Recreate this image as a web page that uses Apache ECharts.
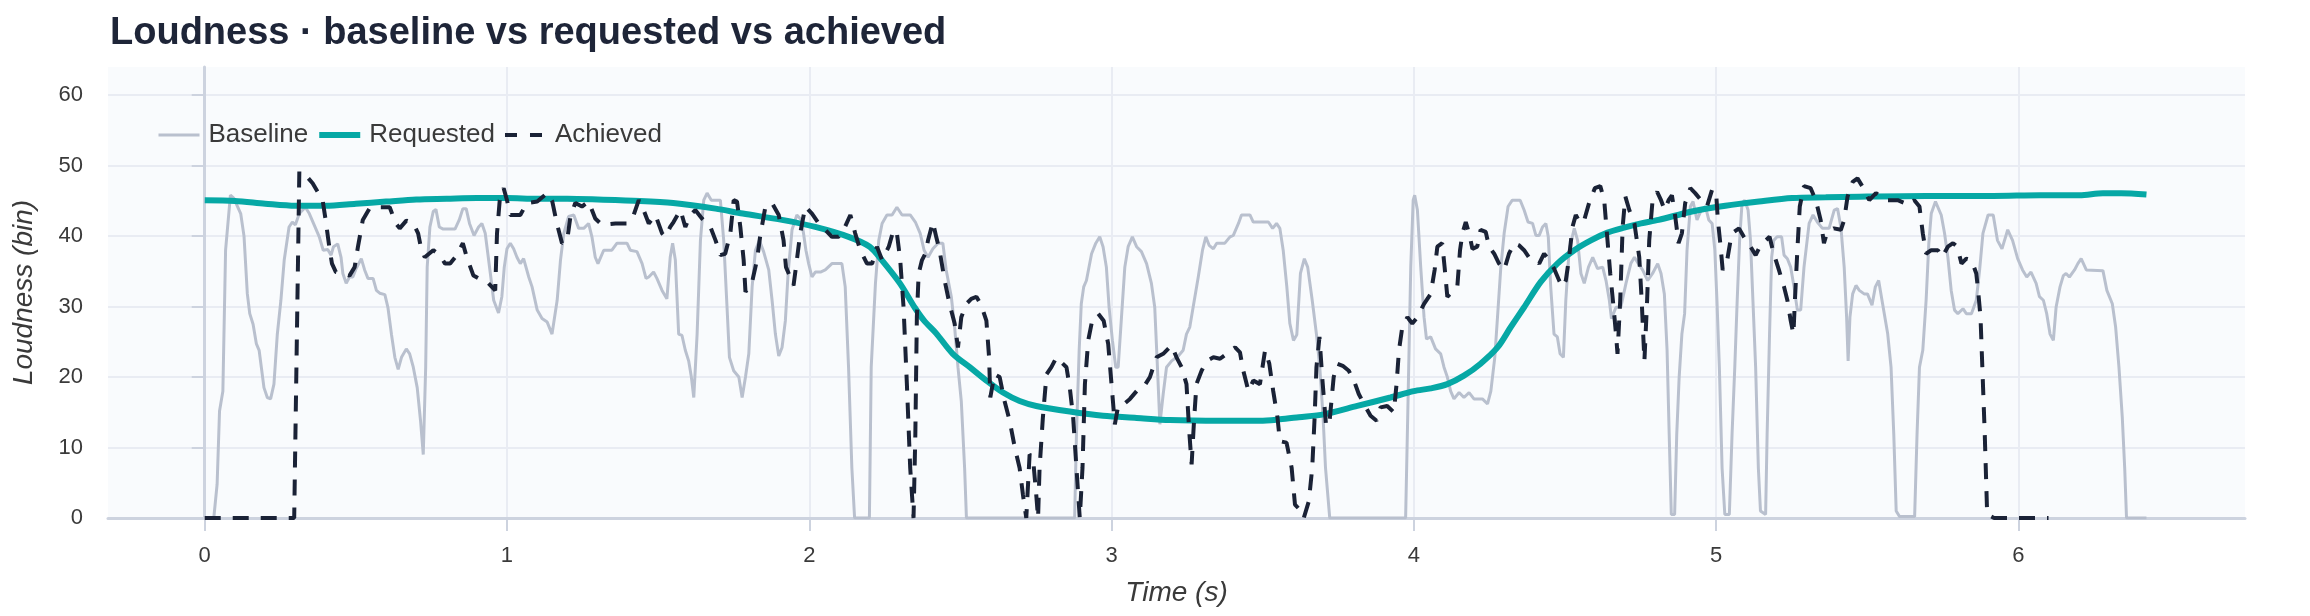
<!DOCTYPE html>
<html>
<head>
<meta charset="utf-8">
<script src="https://cdn.jsdelivr.net/npm/echarts@6/dist/echarts.min.js"></script>
<style>
html,body{margin:0;padding:0;background:#ffffff;}
#chart{width:2310px;height:616px;}
</style>
</head>
<body>
<div id="chart"></div>
<script>
const titleText = 'Loudness · baseline vs requested vs achieved';
const seriesNames = ['Baseline', 'Requested', 'Achieved'];
const xTicks = [0, 1, 2, 3, 4, 5, 6];
const yTicks = [0, 10, 20, 30, 40, 50, 60];

const baselineData = [[0,0],[0.03,0],[0.041,4.8],[0.049,15.2],[0.06,18],[0.069,38],[0.085,45.8],[0.096,45.4],[0.119,43.2],[0.13,40],[0.141,31.8],[0.149,29],[0.16,27.5],[0.171,24.7],[0.18,23.8],[0.196,18.5],[0.207,17.1],[0.218,16.9],[0.229,19],[0.24,26],[0.252,30.9],[0.263,36.6],[0.279,41.3],[0.29,42],[0.3,41.6],[0.313,43.2],[0.333,44.1],[0.346,43.2],[0.362,41.6],[0.379,39.9],[0.392,38],[0.407,38.1],[0.418,37.3],[0.426,38.5],[0.44,38.9],[0.451,37],[0.457,34.7],[0.468,33.3],[0.479,34.2],[0.49,34.2],[0.501,35.4],[0.518,36.8],[0.529,35.2],[0.54,34],[0.557,34],[0.568,32.3],[0.579,31.9],[0.596,31.7],[0.606,29.9],[0.618,26],[0.629,22.8],[0.64,21.1],[0.651,22.8],[0.667,24],[0.678,23.3],[0.69,21.4],[0.703,18.5],[0.714,13.8],[0.723,9],[0.731,21.4],[0.736,35.6],[0.745,41.3],[0.756,43.5],[0.765,43.8],[0.776,41.3],[0.789,41],[0.828,41],[0.842,42.3],[0.854,43.9],[0.865,43.9],[0.876,41.8],[0.891,40.1],[0.906,41.3],[0.917,41.8],[0.928,40.4],[0.945,34.7],[0.956,30.9],[0.972,29.1],[0.983,31.4],[0.991,35.6],[1.0,38.2],[1.011,39],[1.022,38.2],[1.033,37],[1.044,36.1],[1.055,36.8],[1.072,34.2],[1.083,32.8],[1.1,29.5],[1.116,28.3],[1.133,27.8],[1.149,26.1],[1.166,30.9],[1.177,36.6],[1.188,40.4],[1.204,42.8],[1.221,43],[1.237,41.1],[1.254,41.1],[1.27,41.8],[1.281,39.9],[1.292,37],[1.301,36.1],[1.32,38],[1.347,38],[1.364,39],[1.397,39],[1.408,38],[1.43,37.8],[1.447,36.1],[1.46,34],[1.469,34.2],[1.485,34.9],[1.496,34],[1.513,32.3],[1.529,31.1],[1.54,37],[1.548,39],[1.557,36.6],[1.568,26.1],[1.579,25.9],[1.59,23.8],[1.601,22.3],[1.61,20],[1.618,17.1],[1.629,26.1],[1.64,39.4],[1.651,45.1],[1.662,46.1],[1.676,45.1],[1.706,45.1],[1.717,39.4],[1.728,29.9],[1.736,22.8],[1.75,20.9],[1.767,20],[1.778,17.1],[1.789,20],[1.8,23.3],[1.811,32.8],[1.822,38],[1.835,39.4],[1.849,37.8],[1.866,35.2],[1.877,30.9],[1.888,26.1],[1.899,23],[1.91,24.2],[1.921,28],[1.93,34.7],[1.943,40.9],[1.959,43],[1.974,42.3],[1.981,40.4],[1.989,38],[1.998,36.1],[2.009,34.2],[2.02,34.9],[2.037,34.9],[2.053,35.2],[2.075,36.1],[2.108,36.1],[2.119,32.8],[2.13,21.4],[2.141,7.1],[2.15,0],[2.199,0],[2.205,21.4],[2.219,33.3],[2.23,39.4],[2.241,41.8],[2.257,43],[2.274,43],[2.29,44.1],[2.307,43],[2.334,43],[2.351,42],[2.367,40.4],[2.38,38],[2.393,37],[2.409,38.2],[2.426,39],[2.442,39],[2.453,35.2],[2.47,31.4],[2.481,27.1],[2.492,21.4],[2.503,16.6],[2.514,7.1],[2.52,0],[2.878,0],[2.884,11.9],[2.893,23.8],[2.9,30.4],[2.908,32.8],[2.917,33.7],[2.934,37.5],[2.948,39],[2.961,39.9],[2.972,38.5],[2.983,35.6],[2.992,29.9],[3.003,25.2],[3.014,21.4],[3.022,21.4],[3.033,28.5],[3.044,35.6],[3.055,38.5],[3.069,39.9],[3.083,38.5],[3.099,37.8],[3.116,36.1],[3.132,33.3],[3.143,29.9],[3.151,22.3],[3.16,13.3],[3.171,17.6],[3.182,21.4],[3.199,22.3],[3.221,23],[3.237,23.8],[3.248,26.1],[3.259,27.1],[3.27,29.9],[3.287,34.2],[3.301,38],[3.312,39.9],[3.323,38.7],[3.337,38.2],[3.348,39],[3.375,39],[3.392,39.9],[3.403,40.1],[3.42,41.8],[3.43,43],[3.458,43],[3.469,42],[3.519,42],[3.533,41.1],[3.546,41.8],[3.557,41.1],[3.568,38],[3.58,32.8],[3.59,27.6],[3.602,25.2],[3.613,26],[3.625,34.7],[3.638,36.8],[3.649,35.6],[3.664,30.9],[3.678,26.1],[3.689,21.4],[3.7,14.3],[3.708,7.1],[3.722,0],[3.973,0],[3.981,16.6],[3.99,35.6],[3.998,45.1],[4.003,45.8],[4.012,43.7],[4.023,35.6],[4.034,28.5],[4.042,25.4],[4.056,25.7],[4.072,24],[4.089,23.3],[4.1,21.4],[4.111,20],[4.122,18],[4.133,16.9],[4.15,17.8],[4.166,17.1],[4.183,17.8],[4.199,16.9],[4.227,16.9],[4.244,16.2],[4.255,18],[4.268,22.8],[4.277,28.5],[4.288,35.6],[4.299,40.4],[4.312,44.2],[4.326,45.1],[4.352,45.1],[4.365,43.7],[4.378,42],[4.393,41.8],[4.404,40.1],[4.415,40.1],[4.426,41.3],[4.437,41.8],[4.445,39.9],[4.453,32.8],[4.464,26.1],[4.475,25.7],[4.484,23.3],[4.495,22.8],[4.503,30.9],[4.514,38],[4.531,41.1],[4.542,39.4],[4.553,34.7],[4.564,33.3],[4.578,35.6],[4.592,37],[4.608,35.4],[4.625,35.6],[4.636,33.7],[4.647,30.9],[4.654,28.3],[4.669,29.9],[4.685,29.9],[4.702,33.3],[4.718,36.1],[4.73,37],[4.743,36.1],[4.757,35.2],[4.774,33.7],[4.79,34.7],[4.807,36.1],[4.818,34.7],[4.829,31.8],[4.838,23.8],[4.845,11.9],[4.852,0.5],[4.863,0.5],[4.87,11.9],[4.878,20],[4.887,26.1],[4.896,29],[4.904,38],[4.915,44.2],[4.924,44.9],[4.937,42.3],[4.951,43.7],[4.965,44.2],[4.976,42.3],[4.987,41.8],[4.996,38],[5.003,30.9],[5.011,21.4],[5.02,7.1],[5.029,0.5],[5.044,0.5],[5.053,11.9],[5.062,21.4],[5.07,30.9],[5.078,39.4],[5.086,44.7],[5.095,45.1],[5.106,43.7],[5.114,39.4],[5.122,30.9],[5.131,21.4],[5.14,7.1],[5.147,1],[5.164,0.5],[5.169,11.9],[5.177,26.1],[5.184,37],[5.191,39.4],[5.202,39.9],[5.217,39.9],[5.225,37.3],[5.236,36.8],[5.247,35.6],[5.258,32.8],[5.269,29.5],[5.28,29.5],[5.291,35.6],[5.308,41.8],[5.321,43],[5.335,42],[5.352,41.1],[5.374,41.1],[5.391,43.7],[5.402,43.9],[5.413,41.3],[5.424,35.6],[5.432,28.5],[5.437,22.3],[5.443,28.5],[5.452,31.8],[5.463,33],[5.474,32.3],[5.49,31.8],[5.501,31.8],[5.516,30.2],[5.527,32.8],[5.538,33.7],[5.551,30.4],[5.568,26.1],[5.579,21.4],[5.588,11.9],[5.596,1],[5.607,0.2],[5.657,0.2],[5.665,11.9],[5.673,21.4],[5.684,23.8],[5.695,30.9],[5.704,39],[5.712,43.2],[5.726,44.9],[5.745,43],[5.756,40.4],[5.767,37],[5.778,32.3],[5.789,29.5],[5.8,29],[5.817,29.7],[5.828,29],[5.845,29],[5.861,30.9],[5.872,35.2],[5.883,40.4],[5.9,43],[5.917,43],[5.931,39.4],[5.946,38.2],[5.965,40.9],[5.981,39.4],[5.998,36.8],[6.014,35.2],[6.028,34.2],[6.042,34.9],[6.059,33.3],[6.07,31.4],[6.083,30.9],[6.094,29],[6.105,26.1],[6.116,25.2],[6.125,29.9],[6.138,32.8],[6.149,34.4],[6.158,34.7],[6.169,34.2],[6.186,35.2],[6.197,36.1],[6.208,36.8],[6.225,35.2],[6.28,35.1],[6.293,32.3],[6.311,30.4],[6.322,27.1],[6.333,21.4],[6.344,14.3],[6.352,7.1],[6.358,0],[6.424,0]];

const requestedData = [[0,45.1],[0.1,45.0],[0.2,44.6],[0.3,44.3],[0.4,44.3],[0.5,44.6],[0.6,44.9],[0.7,45.2],[0.8,45.3],[0.9,45.4],[1.0,45.4],[1.1,45.3],[1.2,45.3],[1.3,45.2],[1.44,45.0],[1.55,44.7],[1.69,43.9],[1.78,43.2],[1.91,42.3],[2.02,41.3],[2.13,39.9],[2.2,38.5],[2.24,36.6],[2.3,33.3],[2.35,29.8],[2.38,28],[2.42,26.2],[2.475,23.3],[2.531,21.4],[2.586,19.5],[2.641,17.8],[2.696,16.6],[2.751,15.9],[2.862,15.1],[2.972,14.5],[3.083,14.2],[3.193,13.9],[3.359,13.8],[3.491,13.8],[3.557,14],[3.62,14.3],[3.702,14.7],[3.813,15.9],[3.923,17.1],[4.0,18],[4.056,18.4],[4.111,19],[4.166,20.2],[4.221,21.9],[4.277,24.2],[4.321,27.1],[4.365,29.9],[4.42,33.5],[4.475,36.1],[4.531,38],[4.586,39.4],[4.641,40.5],[4.696,41.2],[4.752,41.8],[4.81,42.3],[4.92,43.5],[5.031,44.3],[5.142,44.9],[5.252,45.4],[5.363,45.5],[5.474,45.6],[5.695,45.7],[5.917,45.7],[6.072,45.8],[6.203,45.8],[6.28,46.1],[6.34,46.1],[6.424,45.9]];

const achievedData = [[0,0],[0.296,0],[0.313,49.2],[0.329,48.9],[0.357,47.5],[0.39,45.1],[0.4,42.3],[0.412,38.5],[0.421,36.1],[0.434,34.9],[0.457,34.7],[0.479,34.4],[0.496,35.6],[0.507,38.5],[0.523,42.3],[0.545,43.9],[0.579,44.1],[0.612,44.1],[0.632,41.8],[0.645,41.1],[0.667,42.2],[0.69,41.8],[0.706,40.4],[0.717,38],[0.728,37],[0.756,38],[0.778,37.3],[0.795,36.1],[0.812,36.1],[0.834,37.3],[0.854,39],[0.867,37],[0.889,34.4],[0.906,34],[0.934,33.5],[0.961,32.3],[0.967,40.4],[0.976,45.1],[0.989,46.8],[1.0,45.1],[1.011,43],[1.044,43],[1.066,44.7],[1.1,44.9],[1.133,46.1],[1.15,44.9],[1.165,41.8],[1.182,39],[1.199,39.4],[1.21,42.8],[1.226,44.7],[1.248,44.2],[1.27,44.9],[1.292,42.5],[1.314,41.6],[1.359,41.8],[1.397,41.8],[1.419,43],[1.436,45.1],[1.452,43.7],[1.469,41.8],[1.491,43],[1.513,40.4],[1.524,39.9],[1.54,41.3],[1.551,42],[1.574,43.7],[1.59,41.3],[1.607,43],[1.623,43.7],[1.645,42.5],[1.673,41.3],[1.69,39.4],[1.706,37.3],[1.722,37.5],[1.739,40.4],[1.75,45.1],[1.761,44.9],[1.772,41.3],[1.783,36.6],[1.789,32.1],[1.81,33.3],[1.827,36.6],[1.838,40.1],[1.855,44.2],[1.877,44.7],[1.899,43],[1.915,39.4],[1.923,35.6],[1.932,34.7],[1.948,33],[1.959,36.6],[1.97,40.4],[1.987,44.2],[2.009,43.2],[2.031,41.8],[2.053,40.9],[2.075,39.9],[2.097,39.9],[2.114,40.9],[2.136,43],[2.152,40.4],[2.169,38],[2.191,36.1],[2.208,36.1],[2.224,38.5],[2.241,36.6],[2.263,38.5],[2.279,40.9],[2.29,40.4],[2.301,36.6],[2.312,29.9],[2.323,19],[2.334,7.1],[2.345,0],[2.351,11.9],[2.356,28.5],[2.362,34.7],[2.373,36.6],[2.384,37.5],[2.393,39.4],[2.409,42],[2.42,39.9],[2.431,38],[2.448,33.7],[2.464,30.4],[2.481,27.6],[2.492,24.2],[2.503,28.5],[2.52,30.4],[2.536,31.1],[2.553,31.4],[2.569,30.2],[2.586,28],[2.595,22.8],[2.599,17.1],[2.613,20.4],[2.63,20],[2.646,16.6],[2.663,13.8],[2.68,10],[2.696,7.1],[2.707,3.3],[2.718,0],[2.729,9],[2.74,8.6],[2.751,3.3],[2.757,0],[2.762,7.1],[2.773,14.3],[2.785,20.4],[2.801,21.4],[2.818,22.8],[2.834,22.1],[2.851,21.4],[2.862,18.5],[2.873,14.3],[2.884,7.1],[2.895,0],[2.904,7.1],[2.912,19],[2.923,25.2],[2.934,27.6],[2.956,29],[2.974,28],[2.989,24.7],[3.0,19],[3.011,13.3],[3.022,15.9],[3.039,16.1],[3.061,16.9],[3.083,18],[3.105,18.5],[3.127,20],[3.149,22.8],[3.171,23.3],[3.199,24.5],[3.215,22.8],[3.232,21.4],[3.248,19],[3.257,12.4],[3.265,7.6],[3.273,13.8],[3.281,19],[3.298,20.9],[3.315,22.3],[3.337,22.8],[3.359,22.6],[3.381,23.3],[3.409,24.2],[3.425,23.5],[3.436,20.9],[3.453,18],[3.469,19.5],[3.491,19],[3.508,23.8],[3.522,21.9],[3.535,18],[3.549,14.3],[3.557,10.9],[3.579,10.7],[3.596,7.1],[3.607,1.9],[3.618,1.4],[3.636,0],[3.653,2.4],[3.664,7.1],[3.672,14.3],[3.678,21.4],[3.688,25.7],[3.697,20],[3.71,13],[3.722,14],[3.735,20],[3.747,21.9],[3.765,21.6],[3.785,20.9],[3.802,19.5],[3.818,17.6],[3.835,16.2],[3.857,14.5],[3.877,13.8],[3.89,15.7],[3.912,15.9],[3.934,15],[3.943,19],[3.951,23.8],[3.962,27.1],[3.979,28.5],[3.995,27.6],[4.012,28.5],[4.034,30.4],[4.056,31.8],[4.069,35.2],[4.078,38.5],[4.094,39],[4.102,35.6],[4.111,31.4],[4.128,32.1],[4.144,32.8],[4.153,38],[4.161,40.4],[4.172,42],[4.183,40.4],[4.194,38.2],[4.21,38.5],[4.221,40.9],[4.238,40.6],[4.249,38.5],[4.266,37.5],[4.282,36.1],[4.299,35.2],[4.315,37.5],[4.332,39],[4.348,38.7],[4.365,38],[4.381,37],[4.398,36.8],[4.415,36.1],[4.431,37.5],[4.448,36.6],[4.464,35.4],[4.481,33.7],[4.492,32.8],[4.503,33.7],[4.514,37],[4.525,41.3],[4.536,43],[4.551,41.8],[4.564,42.3],[4.58,44.7],[4.599,46.8],[4.617,47.1],[4.63,45.1],[4.639,40.4],[4.65,34.7],[4.661,29.9],[4.669,26.1],[4.674,23.3],[4.683,30.9],[4.691,41.3],[4.7,45.6],[4.713,43.7],[4.73,41.8],[4.746,37],[4.754,30.9],[4.763,22.3],[4.772,30.9],[4.779,39.4],[4.79,45.1],[4.805,46.3],[4.818,45.1],[4.83,43.7],[4.843,45.1],[4.854,45.8],[4.865,42.8],[4.876,39],[4.887,40.4],[4.898,44.7],[4.915,46.8],[4.931,46.1],[4.954,44.9],[4.97,44.2],[4.987,46.6],[5.0,46.3],[5.006,42.3],[5.014,39],[5.022,35.2],[5.037,36.6],[5.048,39.4],[5.059,40.6],[5.076,41.1],[5.092,39.9],[5.114,38.5],[5.131,37.3],[5.147,38.7],[5.164,39.4],[5.177,39.9],[5.191,37.5],[5.208,35.2],[5.225,32.8],[5.236,30.9],[5.247,28],[5.256,26.1],[5.261,30.9],[5.269,38],[5.277,44.2],[5.291,47.1],[5.313,46.8],[5.33,45.1],[5.346,42.3],[5.357,39],[5.368,40.6],[5.39,41.1],[5.413,40.9],[5.424,42.3],[5.435,45.6],[5.452,47.7],[5.468,48.2],[5.485,47],[5.507,45.1],[5.529,46.1],[5.562,45.1],[5.601,45.1],[5.64,44.4],[5.656,45.1],[5.673,44.2],[5.684,40.4],[5.695,37.5],[5.712,38],[5.734,38],[5.748,37],[5.767,38.5],[5.784,39],[5.798,38.5],[5.812,36.1],[5.828,36.8],[5.845,36.6],[5.861,34.7],[5.867,32.3],[5.875,28.5],[5.881,21.4],[5.889,11.9],[5.897,0.5],[5.92,0],[6.1,0]];

const FONT = "'Liberation Sans', Arial, Helvetica, sans-serif";
const chart = echarts.init(document.getElementById('chart'), null, {renderer: 'canvas'});

const axisColor = '#cdd3df';
const gridColor = '#e9ecf3';
const textColor = '#3a3a3a';
const colors = ['#b9c0ce', '#06a8a5', '#1a2236'];
const widths = [3, 6, 4];
const dash = [16, 12];

chart.setOption({
  backgroundColor: '#ffffff',
  animation: false,
  title: {
    text: titleText,
    left: 105,
    top: 10,
    textStyle: {fontFamily: FONT, fontSize: 38, fontWeight: 'bold', color: '#1e2538'}
  },
  legend: {
    data: [
      {name: seriesNames[0], itemStyle: {opacity: 0}, lineStyle: {color: colors[0], width: widths[0]}},
      {name: seriesNames[1], itemStyle: {opacity: 0}, lineStyle: {color: colors[1], width: widths[1]}},
      {name: seriesNames[2], itemStyle: {opacity: 0}, lineStyle: {color: colors[2], width: widths[2], type: [12, 13]}}
    ],
    left: 152,
    top: 117,
    itemWidth: 41,
    itemHeight: 14,
    itemGap: 8,
    textStyle: {fontFamily: FONT, fontSize: 26, color: textColor, padding: [0, 0, 0, 4]}
  },
  grid: {
    left: 108, right: 65, top: 67, bottom: 98,
    show: true, backgroundColor: '#f9fbfd', borderWidth: 0
  },
  xAxis: {
    type: 'value',
    min: -0.32,
    max: 6.75,
    name: 'Time (s)',
    nameLocation: 'middle',
    nameGap: 61,
    nameTextStyle: {fontFamily: FONT, fontSize: 28, fontStyle: 'italic', color: textColor},
    axisLine: {show: true, onZero: false, lineStyle: {color: axisColor, width: 3}},
    axisTick: {show: true, length: 13, customValues: xTicks, lineStyle: {color: axisColor, width: 2}},
    axisLabel: {customValues: xTicks, fontFamily: FONT, fontSize: 22, color: textColor, margin: 27},
    splitLine: {show: true, customValues: xTicks, lineStyle: {color: gridColor, width: 2}}
  },
  yAxis: {
    type: 'value',
    min: 0,
    max: 64,
    name: 'Loudness (bin)',
    nameLocation: 'middle',
    nameGap: 70,
    nameTextStyle: {fontFamily: FONT, fontSize: 28, fontStyle: 'italic', color: textColor},
    axisLine: {show: true, lineStyle: {color: axisColor, width: 3}},
    axisTick: {show: true, length: 13, customValues: yTicks, lineStyle: {color: axisColor, width: 2}},
    axisLabel: {customValues: yTicks, fontFamily: FONT, fontSize: 22, color: textColor, margin: 25},
    splitLine: {show: true, customValues: yTicks, lineStyle: {color: gridColor, width: 2}}
  },
  series: [
    {
      name: seriesNames[0], type: 'line', data: baselineData, symbol: 'none',
      lineStyle: {color: colors[0], width: widths[0]}, itemStyle: {color: colors[0]}, z: 2
    },
    {
      name: seriesNames[1], type: 'line', data: requestedData, symbol: 'none', smooth: 0.3,
      lineStyle: {color: colors[1], width: widths[1]}, itemStyle: {color: colors[1]}, z: 3
    },
    {
      name: seriesNames[2], type: 'line', data: achievedData, symbol: 'none',
      lineStyle: {color: colors[2], width: widths[2], type: dash}, itemStyle: {color: colors[2]}, z: 4
    }
  ]
});
</script>
</body>
</html>
